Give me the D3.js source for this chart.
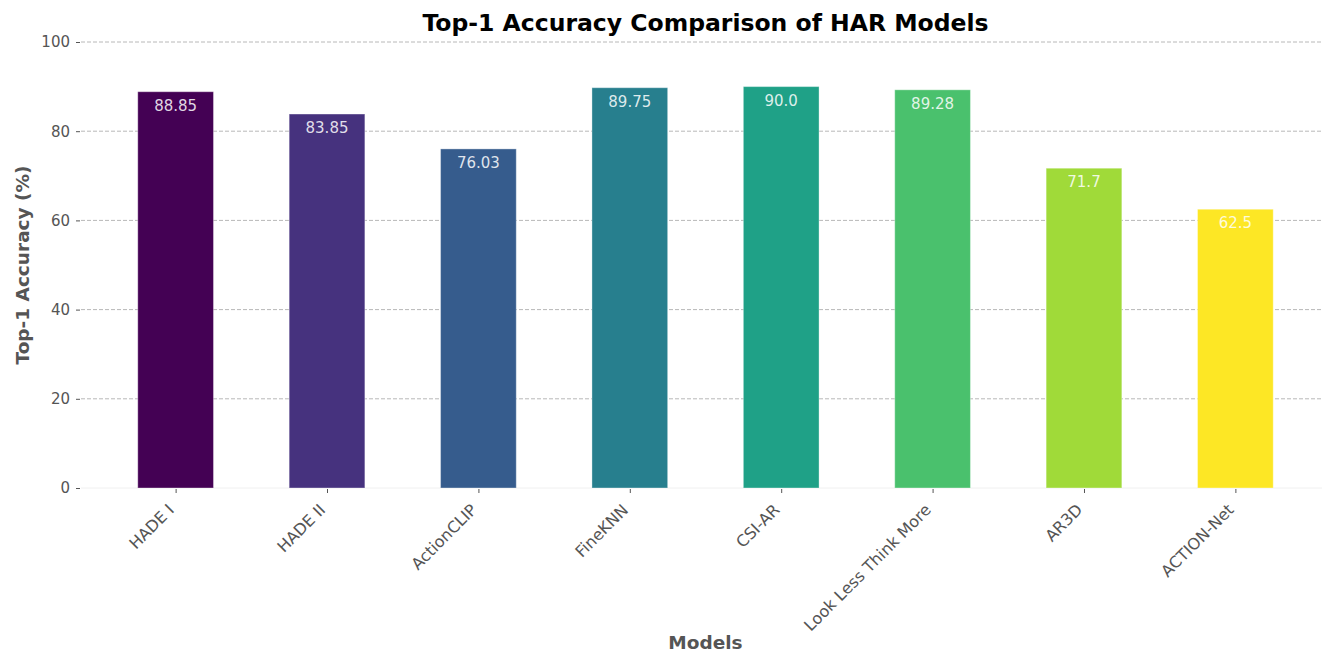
<!DOCTYPE html>
<html>
<head>
<meta charset="utf-8">
<script src="https://cdn.jsdelivr.net/npm/d3@7/dist/d3.min.js"></script>
<style>
  html, body { margin: 0; padding: 0; background: #fff; }
  svg { display: block; font-family: "DejaVu Sans", sans-serif; }
</style>
</head>
<body>
<svg id="chart" width="1322" height="651"></svg>
<script>
// Top-1 accuracy per HAR model
const models = ["HADE I", "HADE II", "ActionCLIP", "FineKNN", "CSI-AR", "Look Less Think More", "AR3D", "ACTION-Net"];
const accuracy = [88.85, 83.85, 76.03, 89.75, 90.0, 89.28, 71.7, 62.5];
const valueLabels = ["88.85", "83.85", "76.03", "89.75", "90.0", "89.28", "71.7", "62.5"];
const yTicks = [0, 20, 40, 60, 80, 100];

const svg = d3.select("#chart");
const margin = { left: 81, right: -8, top: 42, bottom: 163 };
const W = 1322, H = 651;
const plotL = margin.left, plotR = W - margin.right;
const plotT = margin.top, plotB = H - margin.bottom;

// bar width is half the category step, with matplotlib-like padding
const n = models.length;
const x = d3.scaleLinear().domain([-0.625, n - 1 + 0.625]).range([plotL, plotR]);
const step = x(1) - x(0);
const barW = step * 0.5;
const y = d3.scaleLinear().domain([0, 100]).range([plotB, plotT]);
const color = i => d3.interpolateViridis(i / (n - 1));

// horizontal dashed grid
svg.append("g").selectAll("line").data(yTicks.filter(d => d > 0)).join("line")
  .attr("x1", plotL).attr("x2", plotR)
  .attr("y1", d => y(d)).attr("y2", d => y(d))
  .attr("stroke", "#b8b8b8").attr("stroke-width", 1)
  .attr("stroke-dasharray", "4,2");

// faint baseline
svg.append("line")
  .attr("x1", plotL).attr("x2", plotR)
  .attr("y1", y(0)).attr("y2", y(0))
  .attr("stroke", "#f0f0f0").attr("stroke-width", 1);

// bars
svg.append("g").selectAll("rect").data(accuracy).join("rect")
  .attr("x", (d, i) => x(i) - barW / 2)
  .attr("y", d => y(d))
  .attr("width", barW)
  .attr("height", d => y(0) - y(d))
  .attr("fill", (d, i) => color(i))
  .attr("stroke", "#ffffff").attr("stroke-opacity", 0.35).attr("stroke-width", 1);

// value labels inside bar tops
svg.append("g").selectAll("text").data(accuracy).join("text")
  .attr("x", (d, i) => x(i))
  .attr("y", d => y(d) + 19)
  .attr("text-anchor", "middle")
  .attr("font-size", 15)
  .attr("fill", "#ffffff").attr("fill-opacity", 0.85)
  .text((d, i) => valueLabels[i]);

// y axis
const yAxis = d3.axisLeft(y).tickValues(yTicks).tickSize(4).tickPadding(6).tickFormat(d3.format("d"));
const gy = svg.append("g").attr("transform", `translate(${plotL - 1},0)`).call(yAxis);
gy.select(".domain").remove();
gy.selectAll(".tick line").attr("stroke", "#555");
gy.selectAll(".tick text").attr("fill", "#555").attr("font-size", 15).attr("font-family", "DejaVu Sans");

// x axis with rotated category labels
const xAxis = d3.axisBottom(x).tickValues(d3.range(n)).tickSize(4).tickFormat(i => models[i]);
const gx = svg.append("g").attr("transform", `translate(0,${plotB + 1})`).call(xAxis);
gx.select(".domain").remove();
gx.selectAll(".tick line").attr("stroke", "#555");
gx.selectAll(".tick text")
  .attr("fill", "#555").attr("font-size", 16).attr("font-family", "DejaVu Sans")
  .attr("text-anchor", "end")
  .attr("x", -9).attr("y", 14).attr("dy", "0.7em")
  .attr("transform", "rotate(-45, -9, 14)");

// title and axis titles
svg.append("text")
  .attr("x", (plotL + plotR) / 2).attr("y", 31)
  .attr("text-anchor", "middle")
  .attr("font-size", 23.5).attr("font-weight", "bold").attr("fill", "#000")
  .text("Top-1 Accuracy Comparison of HAR Models");

svg.append("text")
  .attr("transform", `translate(29,${(plotT + plotB) / 2}) rotate(-90)`)
  .attr("text-anchor", "middle")
  .attr("font-size", 18.5).attr("font-weight", "bold").attr("fill", "#555")
  .text("Top-1 Accuracy (%)");

svg.append("text")
  .attr("x", (plotL + plotR) / 2).attr("y", 649)
  .attr("text-anchor", "middle")
  .attr("font-size", 18.5).attr("font-weight", "bold").attr("fill", "#555")
  .text("Models");
</script>
</body>
</html>
